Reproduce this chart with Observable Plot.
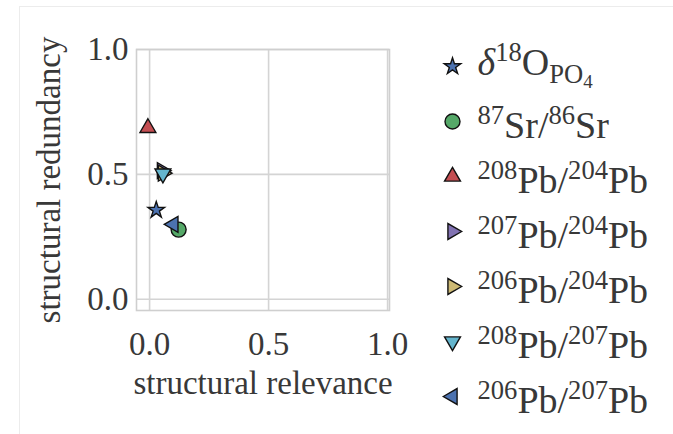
<!DOCTYPE html>
<html>
<head>
<meta charset="utf-8">
<script src="https://cdn.jsdelivr.net/npm/d3@7"></script>
<script src="https://cdn.jsdelivr.net/npm/@observablehq/plot@0.6"></script>
<style>
  html, body { margin: 0; padding: 0; background: #fff; }
  #wrap { position: relative; width: 673px; height: 434px; overflow: hidden; }
  #border { position: absolute; left: 19px; top: 6px; width: 700px; height: 440px;
            border-left: 1.5px solid #ececec; border-top: 1.5px solid #ececec; }
  #main { position: absolute; left: 0; top: 0; }
  #legend { position: absolute; left: 420px; top: 0; }
  svg text, svg tspan { font-family: "Liberation Serif", "DejaVu Serif", serif !important; }
</style>
</head>
<body>
<div id="wrap">
  <div id="border"></div>
  <div id="main"></div>
  <div id="legend"></div>
</div>
<script>
// ---- data ----
const names = ["dO18", "Sr87Sr86", "Pb208Pb204", "Pb207Pb204", "Pb206Pb204", "Pb208Pb207", "Pb206Pb207"];
const relevance  = [0.028, 0.122, -0.007, 0.052, 0.056, 0.056, 0.100];
const redundancy = [0.357, 0.279, 0.686, 0.515, 0.505, 0.503, 0.300];
const palette = ["#4C72B0", "#55A868", "#C44E52", "#8172B2", "#CCB974", "#64B5CD", "#4C72B0"];
const shapes = ["star", "circle", "triangle-up", "triangle-right", "triangle-right", "triangle-down", "triangle-left"];
// legend labels as [text, role] segments
const labels = [
  [["δ", "it"], ["18", "sup"], ["O", ""], ["PO", "sub"], ["4", "subsub"]],
  [["87", "sup"], ["Sr/", ""], ["86", "sup"], ["Sr", ""]],
  [["208", "sup"], ["Pb/", ""], ["204", "sup"], ["Pb", ""]],
  [["207", "sup"], ["Pb/", ""], ["204", "sup"], ["Pb", ""]],
  [["206", "sup"], ["Pb/", ""], ["204", "sup"], ["Pb", ""]],
  [["208", "sup"], ["Pb/", ""], ["207", "sup"], ["Pb", ""]],
  [["206", "sup"], ["Pb/", ""], ["207", "sup"], ["Pb", ""]]
];
const xTicks = [0, 0.5, 1.0];
const yTicks = [0, 0.5, 1.0];
const xLabel = "structural relevance";
const yLabel = "structural redundancy";

// ---- styling helpers ----
const FONT = "Liberation Serif";
const FS = 33;      // axis text
const LFS = 38;     // legend text
const INK = "#383838";
const symbolOf = s => s === "star" ? "star" : s === "circle" ? "circle" : "triangle";
const rotateOf = s => ({"triangle-right": 90, "triangle-down": 180, "triangle-left": 270}[s] || 0);
const radiusOf = s => s === "circle" ? 7.5 : s === "star" ? 5.2 : 5.9;

const rows = names.map((n, i) => ({name: n, x: relevance[i], y: redundancy[i], shape: shapes[i]}));

const dotOpts = {
  fill: "name",
  symbol: d => symbolOf(d.shape), rotate: d => rotateOf(d.shape), r: d => radiusOf(d.shape),
  stroke: "#111", strokeWidth: 1.4
};

const main = Plot.plot({
  width: 420, height: 434,
  marginLeft: 136, marginRight: 31, marginTop: 49, marginBottom: 124,
  style: {fontFamily: FONT, fontSize: FS + "px", color: INK, background: "transparent", overflow: "visible"},
  x: {domain: [-0.055, 1.008]},
  y: {domain: [-0.045, 1.0]},
  color: {domain: names, range: palette},
  symbol: {domain: ["star", "circle", "triangle"], range: ["star", "circle", "triangle"]},
  r: {type: "identity"},
  marks: [
    Plot.gridX(xTicks, {stroke: "#d4d4d4", strokeOpacity: 1, strokeWidth: 1.6}),
    Plot.gridY(yTicks, {stroke: "#d4d4d4", strokeOpacity: 1, strokeWidth: 1.6}),
    Plot.frame({stroke: "#cfcfcf", strokeWidth: 1.6}),
    Plot.axisX(xTicks, {tickSize: 0, tickPadding: 21, tickFormat: d3.format(".1f"),
      label: xLabel, labelAnchor: "center", labelArrow: "none", labelOffset: 83, fill: INK}),
    Plot.axisY(yTicks, {tickSize: 0, tickPadding: 8, tickFormat: d3.format(".1f"),
      label: yLabel, labelAnchor: "center", labelArrow: "none", labelOffset: 100, fill: INK}),
    Plot.dot(rows, {x: "x", y: "y", ...dotOpts})
  ]
});
document.getElementById("main").appendChild(main);

// ---- legend ----
const legend = Plot.plot({
  width: 253, height: 434,
  marginLeft: 0, marginRight: 189, marginTop: 65, marginBottom: 37,
  style: {fontFamily: FONT, fontSize: LFS + "px", color: INK, background: "transparent", overflow: "visible"},
  y: {type: "point", domain: names, padding: 0, axis: null},
  color: {domain: names, range: palette},
  symbol: {domain: ["star", "circle", "triangle"], range: ["star", "circle", "triangle"]},
  r: {type: "identity"},
  marks: [
    Plot.dot(rows, {y: "name", ...dotOpts}),
    Plot.text(rows, {y: "name", text: d => d.name, textAnchor: "start", dx: 25, fill: INK})
  ]
});
document.getElementById("legend").appendChild(legend);

// turn legend texts into rich text with super/subscripts
d3.select(legend).selectAll("g[aria-label='text'] text").each(function(d, i) {
  const t = d3.select(this);
  const segs = labels[i];
  t.text(null);
  const hasSub = segs.some(s => s[1].startsWith("sub"));
  let level = 0;
  for (const [txt, role] of segs) {
    let size = LFS, off = 0, style = "normal";
    if (role === "sup") { size = LFS * 0.7; off = -LFS * 0.36; }
    else if (role === "sub") { size = LFS * 0.7; off = LFS * 0.22; }
    else if (role === "subsub") { size = LFS * 0.5; off = LFS * 0.36; }
    else if (role === "it") { style = "italic"; }
    t.append("tspan").attr("font-size", size).attr("font-style", style)
      .attr("dy", off - level).text(txt);
    level = off;
  }
  // place the baseline relative to the marker row (Plot's default middle anchor adds ~0.32em)
  t.attr("transform", (t.attr("transform") || "") + ` translate(0,${hasSub ? -4 : 4})`);
});
</script>
</body>
</html>
